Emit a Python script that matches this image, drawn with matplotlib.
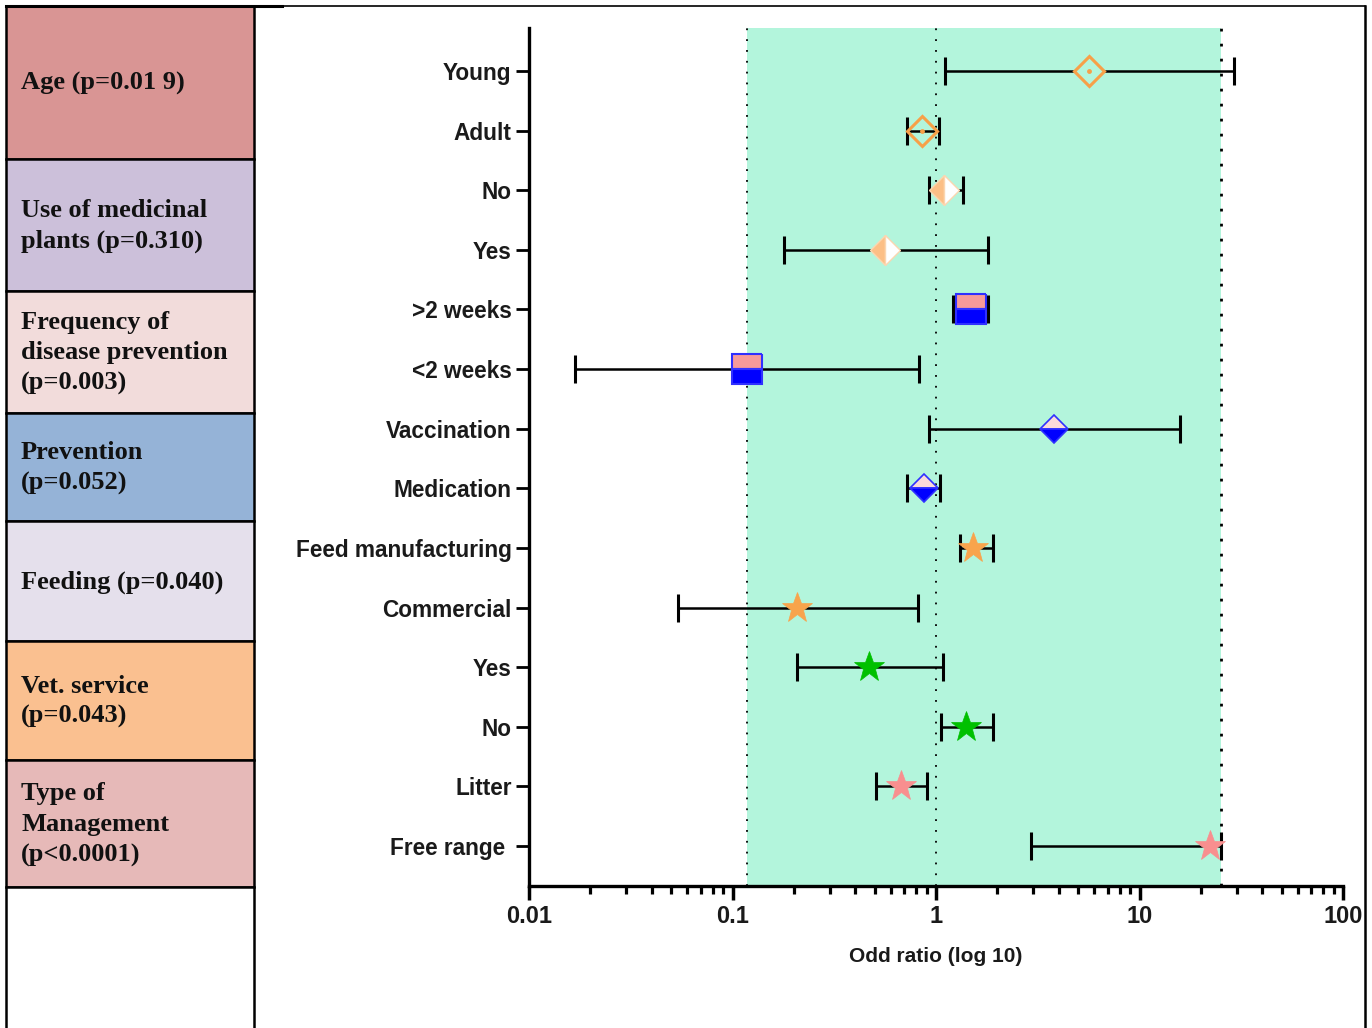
import numpy as np
import matplotlib
matplotlib.use("Agg")
import matplotlib.pyplot as plt
from matplotlib.patches import Rectangle
from matplotlib.lines import Line2D

# ---- data -------------------------------------------------------------
labels = ["Young", "Adult", "No", "Yes", ">2 weeks", "<2 weeks", "Vaccination",
          "Medication", "Feed manufacturing", "Commercial", "Yes", "No",
          "Litter", "Free range "]
odds = [5.65, 0.853, 1.09, 0.562, 1.49, 0.118, 3.80, 0.873, 1.52, 0.207,
        0.469, 1.404, 0.673, 22.2]
ci_low = [1.107, 0.720, 0.924, 0.179, 1.212, 0.0168, 0.924, 0.720, 1.31, 0.054,
          0.207, 1.058, 0.507, 2.93]
ci_high = [29.1, 1.034, 1.357, 1.80, 1.80, 0.825, 15.8, 1.046, 1.905, 0.816,
           1.082, 1.905, 0.903, 25.1]
marker_kind = ["open_dia", "open_dia_clear", "half_dia", "half_dia", "square", "square",
               "blue_dia", "blue_dia", "star_orange", "star_orange",
               "star_green", "star_green", "star_pink", "star_pink"]

band_low, band_high = 0.118, 25.1
x_ticks = [0.01, 0.1, 1, 10, 100]
x_tick_labels = ["0.01", "0.1", "1", "10", "100"]

group_names = ["Age (p=0.01 9)", "Use of medicinal\nplants (p=0.310)",
               "Frequency of\ndisease prevention\n(p=0.003)", "Prevention\n(p=0.052)",
               "Feeding (p=0.040)", "Vet. service\n(p=0.043)",
               "Type of\nManagement\n(p<0.0001)", ""]
group_colors = ["#d99594", "#ccc0da", "#f2dcdb", "#95b3d7", "#e5e0ec", "#fac090",
                "#e6b9b8", "#ffffff"]

# ---- styles ------------------------------------------------------------
SHADE = "#b3f5dc"
ORANGE = "#f7a048"
styles = {
    "open_dia": dict(marker="D", ms=15.5, mfc=SHADE, mec=ORANGE, mew=2.2),
    "open_dia_clear": dict(marker="D", ms=15.5, mfc="none", mec=ORANGE, mew=2.2),
    "half_dia": dict(marker="D", ms=15, fillstyle="left", mfc="#fcbf86",
                     markerfacecoloralt="white", mec="#fbd6b0", mew=1.0),
    "square": dict(marker="s", ms=21, fillstyle="top", mfc="#f79a9a",
                   markerfacecoloralt="#0000ff", mec="#3030ff", mew=1.5),
    "blue_dia": dict(marker="D", ms=14.5, fillstyle="top", mfc="#fbdada",
                     markerfacecoloralt="#0000ff", mec="#3030ff", mew=1.2),
    "star_orange": dict(marker="*", ms=23, mfc="#f8a44c", mec="#f8a44c", mew=0.5),
    "star_green": dict(marker="*", ms=23, mfc="#00c000", mec="#00c000", mew=0.5),
    "star_pink": dict(marker="*", ms=23, mfc="#f88f8f", mec="#f88f8f", mew=0.5),
}

W, H = 1372, 1028
fig = plt.figure(figsize=(W / 100, H / 100), dpi=100)

# ---- left-hand group table and frame ----------------------------------
frame = fig.add_axes([0, 0, 1, 1], zorder=0)
frame.set_xlim(0, W)
frame.set_ylim(H, 0)
frame.axis("off")

row_edges = [6, 159, 291, 413, 521, 641, 760, 887, H + 2]
tab_left, tab_right = 6, 254
for k, (name, col) in enumerate(zip(group_names, group_colors)):
    y0, y1 = row_edges[k], row_edges[k + 1]
    frame.add_patch(Rectangle((tab_left, y0), tab_right - tab_left, y1 - y0,
                              facecolor=col, edgecolor="black", lw=1.8))
    if name:
        frame.text(tab_left + 15, (y0 + y1) / 2 + 1, name, ha="left", va="center",
                   family="Liberation Serif", weight="bold", fontsize=19,
                   linespacing=1.42, color="#111111")
frame.add_line(Line2D([tab_left, 282], [6, 6], color="black", lw=2.2))
frame.add_line(Line2D([282, 1365], [6, 6], color="black", lw=1.2))
frame.add_line(Line2D([1365, 1365], [6, H], color="black", lw=1.8))

# ---- forest plot -------------------------------------------------------
ax = fig.add_axes([529 / W, 1 - 886 / H, (1343 - 529) / W, (886 - 28) / H], zorder=1)
ax.set_xscale("log")
ax.set_xlim(x_ticks[0], x_ticks[-1])
n = len(labels)
ypos = np.arange(n)
ax.set_ylim(n - 1 + 0.67, -0.72)

ax.axvspan(band_low, band_high, color=SHADE, zorder=0, lw=0)
ax.axvline(band_low, color="black", lw=1.3, ls=(0, (1, 5)), zorder=1)
ax.axvline(1, color="black", lw=1.3, ls=(0, (1, 5)), zorder=1)
ax.axvline(band_high, color="black", lw=2.0, ls=(0, (1, 4.4)), zorder=1)

for i in range(n):
    ax.errorbar(odds[i], ypos[i],
                xerr=[[odds[i] - ci_low[i]], [ci_high[i] - odds[i]]],
                fmt="none", ecolor="black", elinewidth=1.8, capsize=10,
                capthick=2.2, zorder=3)
    ax.plot(odds[i], ypos[i], ls="none", zorder=4, **styles[marker_kind[i]])
    if marker_kind[i].startswith("open_dia"):
        ax.plot(odds[i], ypos[i], ls="none", marker="o", ms=3.5, color=ORANGE,
                mec="none", zorder=5)

ax.set_yticks(ypos)
ax.set_yticklabels(labels, family="Liberation Sans", weight="bold", fontsize=16.3,
                   color="#1a1a1a")
ax.set_xticks(x_ticks)
ax.set_xticklabels(x_tick_labels, family="Liberation Sans", weight="bold",
                   fontsize=17, color="#1a1a1a")
ax.xaxis.set_minor_locator(matplotlib.ticker.LogLocator(base=10, subs=np.arange(2, 10)))
ax.xaxis.set_minor_formatter(matplotlib.ticker.NullFormatter())
ax.tick_params(axis="x", which="major", length=10, width=2.5, direction="out", pad=4)
ax.tick_params(axis="x", which="minor", length=6, width=2.3, direction="out")
ax.tick_params(axis="y", which="major", length=9.5, width=2.0, direction="out", pad=3)

for side in ("top", "right"):
    ax.spines[side].set_visible(False)
for side in ("left", "bottom"):
    ax.spines[side].set_linewidth(2.4)

ax.set_xlabel("Odd ratio (log 10)", family="Liberation Sans", weight="bold",
              fontsize=15, color="#1a1a1a", labelpad=13)

fig.savefig("out.png", dpi=100)
